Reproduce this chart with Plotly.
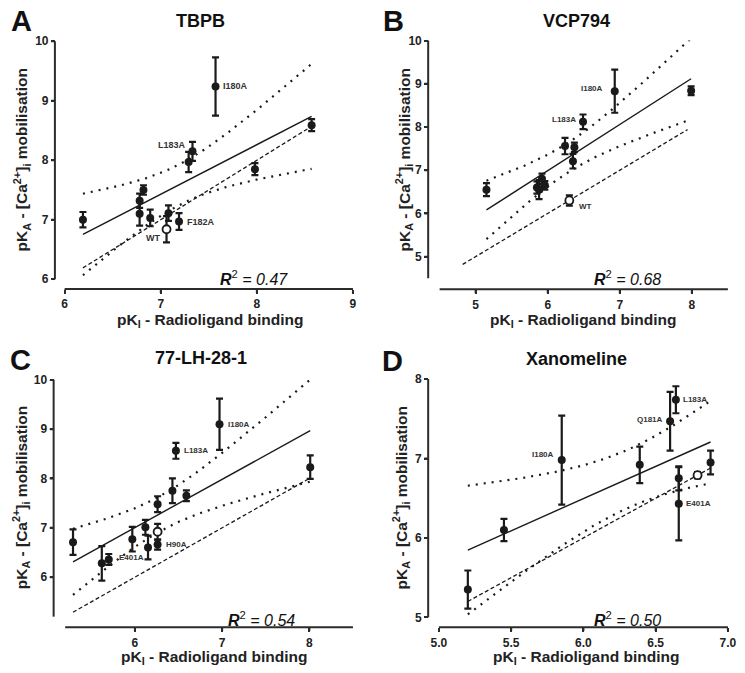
import numpy as np
import plotly.graph_objects as go

W, H = 745, 673
FONT = "Arial, 'Liberation Sans', sans-serif"

# ---------------- data ----------------
# Panel A - TBPB
a_pki = [6.19, 6.82, 6.78, 6.78, 6.89, 7.06, 7.08, 7.19, 7.29, 7.33, 7.57, 7.98, 8.57]
a_pka = [7.00, 7.50, 7.32, 7.10, 7.03, 6.84, 7.11, 6.97, 7.97, 8.15, 9.24, 7.85, 8.59]
a_err = [0.13, 0.08, 0.12, 0.20, 0.14, 0.22, 0.13, 0.14, 0.17, 0.16, 0.49, 0.10, 0.10]
a_lab = ["", "", "", "", "", "WT", "", "F182A", "", "L183A", "I180A", "", ""]
a_wt = 5

# Panel B - VCP794
b_pki = [5.15, 5.85, 5.88, 5.92, 5.96, 6.24, 6.37, 6.35, 6.30, 6.49, 6.93, 7.99]
b_pka = [6.55, 6.60, 6.55, 6.80, 6.65, 7.56, 7.53, 7.21, 6.30, 8.12, 8.83, 8.84]
b_err = [0.15, 0.14, 0.22, 0.12, 0.10, 0.19, 0.11, 0.17, 0.12, 0.17, 0.50, 0.10]
b_lab = ["", "", "", "", "", "", "", "", "WT", "L183A", "I180A", ""]
b_wt = 8

# Panel C - 77-LH-28-1
c_pki = [5.29, 5.62, 5.70, 5.97, 6.12, 6.15, 6.26, 6.26, 6.26, 6.43, 6.47, 6.59, 6.97, 8.01]
c_pka = [6.71, 6.28, 6.36, 6.77, 7.01, 6.60, 7.48, 6.92, 6.66, 7.75, 8.56, 7.65, 9.10, 8.23]
c_err = [0.26, 0.35, 0.11, 0.25, 0.15, 0.24, 0.16, 0.16, 0.10, 0.25, 0.16, 0.11, 0.52, 0.24]
c_lab = ["", "", "", "", "", "E401A", "", "", "H90A", "", "L183A", "", "I180A", ""]
c_wt = 7

# Panel D - Xanomeline
d_pki = [5.20, 5.45, 5.85, 6.39, 6.60, 6.64, 6.66, 6.66, 6.79, 6.88]
d_pka = [5.35, 6.10, 6.98, 6.92, 7.47, 7.74, 6.75, 6.43, 6.79, 6.95]
d_err = [0.24, 0.14, 0.56, 0.23, 0.37, 0.17, 0.15, 0.46, 0.04, 0.15]
d_lab = ["", "", "I180A", "", "Q181A", "L183A", "", "E401A", "", ""]
d_wt = 8

titles = ["TBPB", "VCP794", "77-LH-28-1", "Xanomeline"]
letters = ["A", "B", "C", "D"]
r2_text = ["0.47", "0.68", "0.54", "0.50"]
identity_ranges = [[6.19, 8.57], [4.82, 7.94], [5.29, 8.01], [5.20, 6.88]]

x_ranges = [[6, 9], [4.5, 8.5], [5.2, 8.5], [5.0, 7.0]]
y_ranges = [[6, 10], [4.5, 10], [5.2, 10], [5, 8]]
x_ticks = [[6, 7, 8, 9], [5, 6, 7, 8], [6, 7, 8], [5.0, 5.5, 6.0, 6.5, 7.0]]
y_ticks = [[6, 7, 8, 9, 10], [5, 6, 7, 8, 9, 10], [6, 7, 8, 9, 10], [5, 6, 7, 8]]
x_ticktext = [["6", "7", "8", "9"], ["5", "6", "7", "8"], ["6", "7", "8"],
              ["5.0", "5.5", "6.0", "6.5", "7.0"]]

# t(0.975, df) for 95% confidence bands
t975 = {6: 2.447, 7: 2.365, 8: 2.306, 9: 2.262, 10: 2.228, 11: 2.201,
        12: 2.179, 13: 2.160, 14: 2.145, 15: 2.131, 16: 2.120}

# ---------------- layout geometry (pixels) ----------------
# (x-axis left, x-axis right, x-axis y, y-axis top, y-axis bottom, y-axis x)
geom = [
    (58.0, 353.0, 288.0, 35.0, 278.0, 48.0),
    (441.7, 736.7, 288.3, 34.3, 277.0, 430.0),
    (58.5, 353.0, 633.3, 380.7, 622.6, 46.7),
    (441.0, 736.7, 633.3, 380.0, 623.3, 430.0),
]
# label placement: label -> (xanchor, xshift, yshift)
label_pos = [
    {"WT": ("right", -5, -9), "F182A": ("left", 6, 0), "L183A": ("right", -4, 6), "I180A": ("left", 5, 0)},
    {"WT": ("left", 8, -6), "L183A": ("right", -5, 2), "I180A": ("right", -10, 3)},
    {"E401A": ("right", -2, -10), "H90A": ("left", 6, 0), "L183A": ("left", 6, 0), "I180A": ("left", 6, 0)},
    {"I180A": ("right", -6, 6), "Q181A": ("right", -5, 2), "L183A": ("left", 5, 0), "E401A": ("left", 5, 0)},
]
label_size = [9, 8, 8, 8]
title_pos = [(197, 14), (582, 14), (198, 358), (582, 359)]
letter_pos = [(14, 14), (394, 14), (13, 360), (393, 362)]
r2_left = [(215, 277), (598, 277), (223, 625), (598, 625)]
xtitle_pos = [(207, 320), (588, 320), (211, 664), (592, 664)]
ytitle_pos = [(14, 156), (405, 156), (13, 501), (402, 501)]

panels = [
    (a_pki, a_pka, a_err, a_lab, a_wt),
    (b_pki, b_pka, b_err, b_lab, b_wt),
    (c_pki, c_pka, c_err, c_lab, c_wt),
    (d_pki, d_pka, d_err, d_lab, d_wt),
]

fig = go.Figure()
annotations = []
shapes = []
INK = "#1a1a1a"
AXC = "#2b2b2b"


def paper(pxy):
    return pxy[0] / W, 1 - pxy[1] / H


for i, (px, py, pe, lab, wt) in enumerate(panels):
    xs = "x" if i == 0 else f"x{i+1}"
    ys = "y" if i == 0 else f"y{i+1}"
    x = np.array(px, float)
    y = np.array(py, float)
    n = len(x)
    slope, icpt = np.polyfit(x, y, 1)
    xm = x.mean()
    sxx = ((x - xm) ** 2).sum()
    resid = y - (slope * x + icpt)
    s = np.sqrt((resid ** 2).sum() / (n - 2))
    t = t975[n - 2]
    xg = np.linspace(x.min(), x.max(), 120)
    yfit = slope * xg + icpt
    half = t * s * np.sqrt(1.0 / n + (xg - xm) ** 2 / sxx)

    # identity line
    ir = identity_ranges[i]
    fig.add_trace(go.Scatter(x=ir, y=ir, mode="lines", xaxis=xs, yaxis=ys,
                             line=dict(color=INK, width=1.3, dash="4px,2.5px"),
                             hoverinfo="skip", showlegend=False))
    # 95% confidence bands of the regression
    for band in (yfit + half, yfit - half):
        fig.add_trace(go.Scatter(x=xg, y=band, mode="lines", xaxis=xs, yaxis=ys,
                                 line=dict(color=INK, width=2.2, dash="2px,6px"),
                                 hoverinfo="skip", showlegend=False))
    # regression line
    fig.add_trace(go.Scatter(x=[xg[0], xg[-1]], y=[yfit[0], yfit[-1]], mode="lines",
                             xaxis=xs, yaxis=ys, line=dict(color=INK, width=1.4),
                             hoverinfo="skip", showlegend=False))
    # filled data points
    idx = [k for k in range(n) if k != wt]
    fig.add_trace(go.Scatter(
        x=[px[k] for k in idx], y=[py[k] for k in idx], mode="markers",
        xaxis=xs, yaxis=ys, cliponaxis=False,
        marker=dict(size=8, color=INK, line=dict(width=0)),
        error_y=dict(type="data", array=[pe[k] for k in idx], visible=True,
                     color=INK, thickness=2.2, width=3.5),
        showlegend=False))
    # open WT point
    fig.add_trace(go.Scatter(
        x=[px[wt]], y=[py[wt]], mode="markers", xaxis=xs, yaxis=ys, cliponaxis=False,
        marker=dict(size=8, color="white", line=dict(width=1.8, color=INK)),
        error_y=dict(type="data", array=[pe[wt]], visible=True,
                     color=INK, thickness=2.2, width=3.5),
        showlegend=False))

    # point labels
    for k, txt in enumerate(lab):
        if not txt:
            continue
        xa, xsft, ysft = label_pos[i][txt]
        annotations.append(dict(x=px[k], y=py[k], xref=xs, yref=ys, text=f"<b>{txt}</b>",
                                showarrow=False, xanchor=xa, yanchor="middle",
                                xshift=xsft, yshift=ysft,
                                font=dict(family=FONT, size=label_size[i], color="#333")))

    x0, x1, xay, yt, yb, yax = geom[i]
    axis_common = dict(showgrid=False, zeroline=False, showline=False,
                       ticks="outside", ticklen=4, tickwidth=2, tickcolor=AXC,
                       tickfont=dict(family=FONT, size=12, color="#222", weight="bold"))
    fig.update_layout(**{
        ("xaxis" if i == 0 else f"xaxis{i+1}"): dict(
            domain=[x0 / W, x1 / W], range=x_ranges[i], anchor="free",
            position=1 - xay / H, tickvals=x_ticks[i], ticktext=x_ticktext[i],
            **axis_common),
        ("yaxis" if i == 0 else f"yaxis{i+1}"): dict(
            domain=[1 - yb / H, 1 - yt / H], range=y_ranges[i], anchor="free",
            position=yax / W, tickvals=y_ticks[i], **axis_common),
    })

    # offset axis lines and tick marks
    shapes.append(dict(type="line", xref="paper", yref="paper",
                       x0=x0 / W, x1=x1 / W, y0=1 - xay / H, y1=1 - xay / H,
                       line=dict(color=AXC, width=2)))
    shapes.append(dict(type="line", xref="paper", yref="paper",
                       x0=yax / W, x1=yax / W, y0=1 - yb / H, y1=1 - yt / H,
                       line=dict(color=AXC, width=2)))
    for tv in x_ticks[i]:
        shapes.append(dict(type="line", xref=xs, yref="paper", x0=tv, x1=tv,
                           y0=1 - xay / H, y1=1 - (xay + 4) / H,
                           line=dict(color=AXC, width=2)))
    for tv in y_ticks[i]:
        shapes.append(dict(type="line", xref="paper", yref=ys, y0=tv, y1=tv,
                           x0=yax / W, x1=(yax - 4) / W,
                           line=dict(color=AXC, width=2)))

    tx, ty = paper(title_pos[i])
    annotations.append(dict(x=tx, y=ty, xref="paper", yref="paper", text=f"<b>{titles[i]}</b>",
                            showarrow=False, xanchor="center", yanchor="middle",
                            font=dict(family=FONT, size=18, color="#111")))
    lx, ly = paper(letter_pos[i])
    annotations.append(dict(x=lx, y=ly, xref="paper", yref="paper", text=f"<b>{letters[i]}</b>",
                            showarrow=False, xanchor="center", yanchor="middle",
                            font=dict(family=FONT, size=29, color="#111")))
    rx, ry = paper(r2_left[i])
    annotations.append(dict(x=rx, y=ry, xref="paper", yref="paper",
                            text=f"<i><b>R</b></i><sup>2</sup><i> = {r2_text[i]}</i>",
                            showarrow=False, xanchor="left", yanchor="middle",
                            font=dict(family=FONT, size=16, color="#111")))
    xtx, xty = paper(xtitle_pos[i])
    annotations.append(dict(x=xtx, y=xty, xref="paper", yref="paper",
                            text="<b>pK<sub>I</sub> - Radioligand binding</b>",
                            showarrow=False, xanchor="center", yanchor="middle",
                            font=dict(family=FONT, size=15.5, color="#222")))
    ytx, yty = paper(ytitle_pos[i])
    annotations.append(dict(x=ytx, y=yty, xref="paper", yref="paper", textangle=-90,
                            text="<b>pK<sub>A</sub> - [Ca<sup>2+</sup>]<sub>i</sub> mobilisation</b>",
                            showarrow=False, xanchor="center", yanchor="middle",
                            font=dict(family=FONT, size=15.5, color="#222")))

fig.update_layout(width=W, height=H, margin=dict(l=0, r=0, t=0, b=0),
                  paper_bgcolor="white", plot_bgcolor="white",
                  showlegend=False, annotations=annotations, shapes=shapes)
fig.write_html("out.html", config={"displayModeBar": False},
               post_script="document.body.style.margin='0px';"
                           "document.body.style.overflow='hidden';")
